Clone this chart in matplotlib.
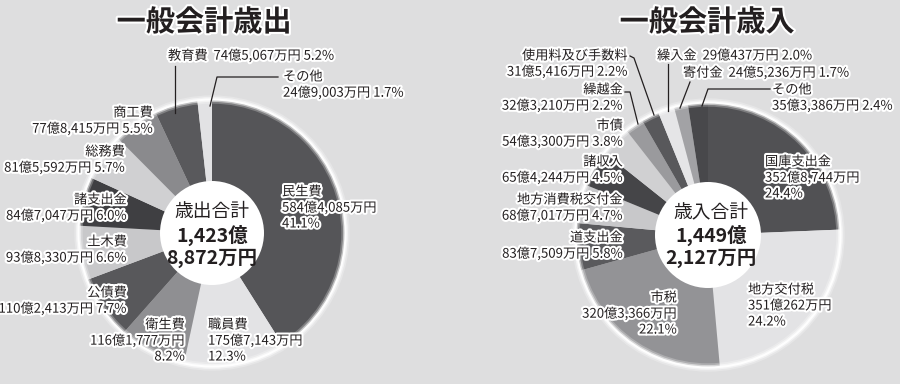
import matplotlib
matplotlib.use("Agg")
import matplotlib.pyplot as plt
from matplotlib.patches import Circle
import matplotlib.patheffects as pe

plt.rcParams['font.family'] = ['Noto Sans CJK JP', 'DejaVu Sans']

# values in 万円
out_names = ['民生費', '職員費', '衛生費', '公債費', '土木費',
             '諸支出金', '総務費', '商工費', '教育費', 'その他']
out_values = [5844085, 1757143, 1161777, 1102413, 938330,
              847047, 815592, 778415, 745067, 249003]
out_amounts = ['584億4,085万円', '175億7,143万円', '116億1,777万円', '110億2,413万円',
               '93億8,330万円', '84億7,047万円', '81億5,592万円', '77億8,415万円',
               '74億5,067万円', '24億9,003万円']
out_pcts = ['41.1%', '12.3%', '8.2%', '7.7%', '6.6%', '6.0%', '5.7%', '5.5%', '5.2%', '1.7%']
out_colors = ['#555558', '#e3e3e5', '#8f8f92', '#58585b', '#c8c8ca',
              '#3f3f42', '#d0d0d2', '#8a8a8d', '#59595c', '#e2e2e4']

in_names = ['国庫支出金', '地方交付税', '市税', '道支出金', '地方消費税交付金', '諸収入',
            '市債', '繰越金', '使用料及び手数料', '繰入金', '寄付金', 'その他']
in_values = [3528744, 3510262, 3203366, 837509, 687017, 654244,
             543300, 323210, 315416, 290437, 245236, 353386]
in_amounts = ['352億8,744万円', '351億262万円', '320億3,366万円', '83億7,509万円',
              '68億7,017万円', '65億4,244万円', '54億3,300万円', '32億3,210万円',
              '31億5,416万円', '29億437万円', '24億5,236万円', '35億3,386万円']
in_pcts = ['24.4%', '24.2%', '22.1%', '5.8%', '4.7%', '4.5%', '3.8%', '2.2%',
           '2.2%', '2.0%', '1.7%', '2.4%']
in_colors = ['#515154', '#e3e3e5', '#939396', '#5a5a5d', '#c8c8ca', '#454548',
             '#d0d0d2', '#9a9a9d', '#58585b', '#e5e5e7', '#a2a2a5', '#48484b']

H = 384
BG = '#dededf'

fig = plt.figure(figsize=(9, 3.84), dpi=100, facecolor=BG)
ax = fig.add_axes([0, 0, 1, 1])
ax.set_facecolor(BG)

halo = [pe.withStroke(linewidth=3, foreground='white')]


def Y(y):
    return H - y


def donut(values, colors, cx, cy, r, r_in):
    ax.pie(values, colors=colors, center=(cx, Y(cy)), radius=r, startangle=90,
           counterclock=False, wedgeprops=dict(linewidth=0))
    # soft white rim
    for w, a in [(6, 0.25), (3.5, 0.5), (1.5, 0.95)]:
        ax.add_patch(Circle((cx, Y(cy)), r + 0.5, facecolor='none', edgecolor='white',
                            linewidth=w, alpha=a, zorder=3))
    ax.add_patch(Circle((cx, Y(cy)), r_in, facecolor='white', edgecolor='none', zorder=4))


def label(x, y, lines, ha='left', size=9.5):
    for i, s in enumerate(lines):
        ax.text(x, Y(y + i * 16), s, ha=ha, va='center', fontsize=size,
                color='#231f20', path_effects=halo, zorder=6)


def leader(pts):
    xs = [p[0] for p in pts]
    ys = [Y(p[1]) for p in pts]
    ax.plot(xs, ys, color='#231f20', linewidth=0.9, zorder=5)


# ---- left: 歳出 ----
donut(out_values, out_colors, 212, 233, 133, 52)
ax.text(204, Y(22), '一般会計歳出', ha='center', va='center', fontsize=21,
        fontweight='bold', color='#231f20', path_effects=halo)
ax.text(212, Y(212), '歳出合計', ha='center', va='center', fontsize=13.5, color='#231f20', zorder=6)
ax.text(212, Y(235), '1,423億', ha='center', va='center', fontsize=14,
        fontweight='bold', color='#231f20', zorder=6)
ax.text(212, Y(258), '8,872万円', ha='center', va='center', fontsize=14,
        fontweight='bold', color='#231f20', zorder=6)

label(282, 192, [out_names[0], out_amounts[0], out_pcts[0]])
label(208, 325, [out_names[1], out_amounts[1], out_pcts[1]])
label(185, 325, [out_names[2], out_amounts[2], out_pcts[2]], ha='right')
label(127, 293, [out_names[3], out_amounts[3] + ' ' + out_pcts[3]], ha='right')
label(127, 242, [out_names[4], out_amounts[4] + ' ' + out_pcts[4]], ha='right')
label(127, 200, [out_names[5], out_amounts[5] + ' ' + out_pcts[5]], ha='right')
label(125, 152, [out_names[6], out_amounts[6] + ' ' + out_pcts[6]], ha='right')
label(153, 113, [out_names[7], out_amounts[7] + ' ' + out_pcts[7]], ha='right')
label(168, 56, [out_names[8] + '  ' + out_amounts[8] + ' ' + out_pcts[8]])
label(283, 77, [out_names[9], out_amounts[9] + ' ' + out_pcts[9]])
leader([(175, 66), (175, 113)])
leader([(278, 77), (217, 77), (210, 106)])

# ---- right: 歳入 ----
donut(in_values, in_colors, 708, 235, 132, 53)
ax.text(707, Y(22), '一般会計歳入', ha='center', va='center', fontsize=21,
        fontweight='bold', color='#231f20', path_effects=halo)
ax.text(711, Y(212), '歳入合計', ha='center', va='center', fontsize=13.5, color='#231f20', zorder=6)
ax.text(711, Y(235), '1,449億', ha='center', va='center', fontsize=14,
        fontweight='bold', color='#231f20', zorder=6)
ax.text(711, Y(258), '2,127万円', ha='center', va='center', fontsize=14,
        fontweight='bold', color='#231f20', zorder=6)

label(765, 162, [in_names[0], in_amounts[0], in_pcts[0]])
label(748, 290, [in_names[1], in_amounts[1], in_pcts[1]])
label(677, 298, [in_names[2], in_amounts[2], in_pcts[2]], ha='right')
label(623, 238, [in_names[3], in_amounts[3] + ' ' + in_pcts[3]], ha='right')
label(623, 200, [in_names[4], in_amounts[4] + ' ' + in_pcts[4]], ha='right')
label(623, 162, [in_names[5], in_amounts[5] + ' ' + in_pcts[5]], ha='right')
label(623, 126, [in_names[6], in_amounts[6] + ' ' + in_pcts[6]], ha='right')
label(623, 90, [in_names[7], in_amounts[7] + ' ' + in_pcts[7]], ha='right')
label(628, 56, [in_names[8], in_amounts[8] + ' ' + in_pcts[8]], ha='right')
label(657, 56, [in_names[9] + '  ' + in_amounts[9] + ' ' + in_pcts[9]])
label(683, 73, [in_names[10] + '  ' + in_amounts[10] + ' ' + in_pcts[10]])
label(772, 90, [in_names[11], in_amounts[11] + ' ' + in_pcts[11]])
leader([(630, 56), (634, 58), (654, 115)])
leader([(668, 64), (668, 111)])
leader([(690, 82), (680, 108)])
leader([(770, 89), (708, 89), (702, 106)])
leader([(625, 92), (630, 92), (638, 124)])

ax.set_xlim(0, 900)
ax.set_ylim(0, H)
ax.set_aspect('equal')
ax.axis('off')

fig.savefig('out.png', dpi=100, facecolor=BG)
